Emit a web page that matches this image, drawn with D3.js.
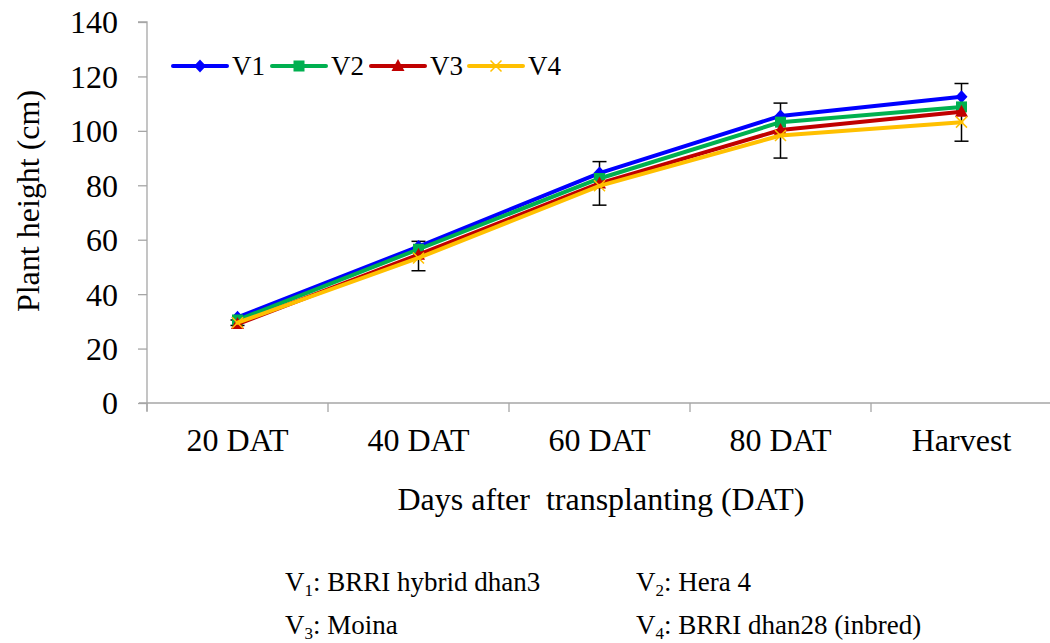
<!DOCTYPE html>
<html><head><meta charset="utf-8">
<script src="https://cdn.jsdelivr.net/npm/d3@7"></script>
<style>
body{margin:0;background:#fff;}
svg text{font-family:"Liberation Serif","Times New Roman",Tinos,"DejaVu Serif",serif;fill:#000;}
</style></head>
<body><svg id="c" width="1050" height="643"></svg>
<script>
const categories = ["20 DAT","40 DAT","60 DAT","80 DAT","Harvest"];
const seriesNames = ["V1","V2","V3","V4"];
const v1 = [31.5, 57.5, 84.5, 105.5, 112.5];
const v2 = [30.5, 56.5, 82.5, 103.2, 108.8];
const v3 = [29.0, 54.5, 80.7, 100.3, 107.0];
const v4 = [29.5, 53.3, 79.8, 98.3, 103.2];
const errCenter = [29.5, 54.0, 80.7, 100.1, 106.8];
const errHalf = [1.0, 5.4, 8.0, 10.1, 10.6];
const yTicks = [0,20,40,60,80,100,120,140];
const colors = ["#0000FF","#00B050","#C00000","#FFC000"];
const markers = ["diamond","square","triangle","x"];
const notes = [["V","1",": BRRI hybrid dhan3"],["V","2",": Hera 4"],["V","3",": Moina"],["V","4",": BRRI dhan28 (inbred)"]];

const FF = '"Liberation Serif","Times New Roman",Tinos,"DejaVu Serif",serif';
const svg = d3.select("#c").attr("font-family", FF);
const x0 = 147, plotW = 905, yTop = 22, yBot = 403;
const x = d3.scaleBand().domain(categories).range([x0, x0+plotW]);
const y = d3.scaleLinear().domain([0,140]).range([yBot, yTop]);
const axisCol = "#a6a6a6";

// Y axis
const ya = svg.append("g").attr("transform",`translate(${x0},0)`)
  .call(d3.axisLeft(y).tickValues(yTicks).tickSize(9).tickPadding(20));
ya.attr("font-family", FF);
ya.select(".domain").attr("stroke",axisCol).attr("stroke-width",1.3).attr("d",`M-9,${yTop}H0V${yBot+8}`);
ya.selectAll(".tick line").attr("stroke",axisCol).attr("stroke-width",1.3);
ya.selectAll(".tick text").style("font-size","32px").attr("dy","0.34em");

// X axis
const xa = svg.append("g").attr("transform",`translate(0,${yBot})`)
  .call(d3.axisBottom(x).tickSize(0).tickPadding(25));
xa.attr("font-family", FF);
xa.select(".domain").attr("stroke",axisCol).attr("stroke-width",1.3).attr("d",`M${x0-8},0H${x0+plotW}`);
xa.selectAll(".tick text").style("font-size","32px");
// category boundary ticks
const bounds = categories.map(c=>x(c)).concat([x0+plotW]);
svg.append("g").selectAll("line").data(bounds).join("line")
  .attr("x1",d=>d).attr("x2",d=>d).attr("y1",yBot).attr("y2",yBot+9)
  .attr("stroke",axisCol).attr("stroke-width",1.3);

// titles
svg.append("text").attr("transform","translate(28,201) rotate(-90)").attr("text-anchor","middle")
  .attr("dominant-baseline","central").style("font-size","32px").text("Plant height (cm)");
svg.append("text").attr("x",601).attr("y",499).attr("text-anchor","middle").attr("dominant-baseline","central")
  .style("font-size","32px").style("white-space","pre").text("Days after  transplanting (DAT)");

const cx = c => x(c) + x.bandwidth()/2;
const line = d3.line().x((d,i)=>cx(categories[i])).y(d=>y(d));
const allSeries = [v1,v2,v3,v4];

function drawMarker(g, type, color, px, py){
  if(type==="diamond"){
    g.append("path").attr("d",`M${px},${py-6.5}L${px+6},${py}L${px},${py+6.5}L${px-6},${py}Z`).attr("fill",color);
  } else if(type==="square"){
    g.append("rect").attr("x",px-5.5).attr("y",py-5.5).attr("width",11).attr("height",11).attr("fill",color);
  } else if(type==="triangle"){
    g.append("path").attr("d",`M${px},${py-7}L${px+6.5},${py+5}L${px-6.5},${py+5}Z`).attr("fill",color);
  } else {
    g.append("path").attr("d",`M${px-5.5},${py-5.5}L${px+5.5},${py+5.5}M${px+5.5},${py-5.5}L${px-5.5},${py+5.5}`)
      .attr("stroke",color).attr("stroke-width",1.5).attr("fill","none");
  }
}

// error bars (black)
const eg = svg.append("g");
categories.forEach((c,i)=>{
  const px = cx(c), t = y(errCenter[i]+errHalf[i]), b = y(errCenter[i]-errHalf[i]);
  eg.append("line").attr("x1",px).attr("x2",px).attr("y1",t).attr("y2",b).attr("stroke","#000").attr("stroke-width",1.5);
  eg.append("line").attr("x1",px-7).attr("x2",px+7).attr("y1",t).attr("y2",t).attr("stroke","#000").attr("stroke-width",1.5);
  eg.append("line").attr("x1",px-7).attr("x2",px+7).attr("y1",b).attr("y2",b).attr("stroke","#000").attr("stroke-width",1.5);
});

allSeries.forEach((s,k)=>{
  const g = svg.append("g");
  g.append("path").datum(s).attr("d",line).attr("fill","none").attr("stroke",colors[k])
    .attr("stroke-width",4).attr("stroke-linejoin","round").attr("stroke-linecap","round");
  s.forEach((v,i)=>drawMarker(g, markers[k], colors[k], cx(categories[i]), y(v)));
});

// legend
const legX = [173, 272, 371, 469];
const legY = 66;
seriesNames.forEach((n,k)=>{
  const g = svg.append("g");
  g.append("line").attr("x1",legX[k]).attr("x2",legX[k]+54).attr("y1",legY).attr("y2",legY)
    .attr("stroke",colors[k]).attr("stroke-width",4).attr("stroke-linecap","round");
  drawMarker(g, markers[k], colors[k], legX[k]+27, legY);
  g.append("text").attr("x",legX[k]+59).attr("y",legY).attr("dominant-baseline","central")
    .style("font-size","27px").text(n);
});

// notes
const noteX = [285, 636, 285, 636];
const noteY = [591, 591, 634, 634];
notes.forEach((n,k)=>{
  const t = svg.append("text").attr("x",noteX[k]).attr("y",noteY[k]).style("font-size","27px");
  t.append("tspan").text(n[0]);
  t.append("tspan").attr("dy",5).style("font-size","17px").text(n[1]);
  t.append("tspan").attr("dy",-5).text(n[2]);
});
</script></body></html>
